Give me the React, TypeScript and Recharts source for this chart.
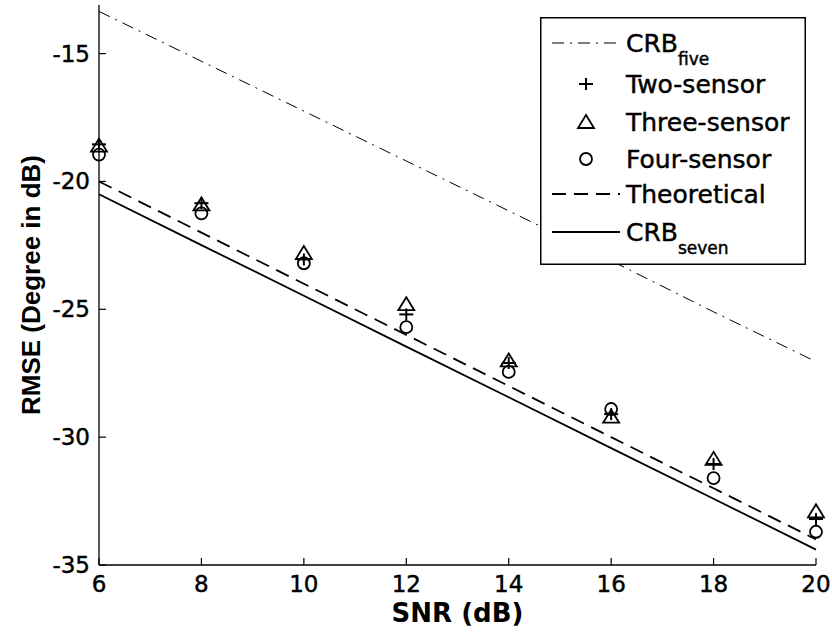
import type { FC } from 'react'
import { ComposedChart, Label, Legend, Line, XAxis, YAxis } from 'recharts'

const SNR = [6, 8, 10, 12, 14, 16, 18, 20]
const CRB_FIVE = [-13.35, -15.3, -17.25, -19.2, -21.15, -23.1, -25.1, -27.05]
const THEORETICAL = [-20.0, -22.0, -24.0, -26.0, -28.0, -30.0, -32.0, -34.0]
const CRB_SEVEN = [-20.5, -22.49, -24.47, -26.46, -28.44, -30.43, -32.41, -34.4]
const TWO_SENSOR = [-18.55, -20.85, -23.05, -25.2, -27.1, -29.1, -31.05, -33.2]
const THREE_SENSOR = [-18.6, -20.9, -22.8, -24.8, -27.0, -29.2, -30.85, -32.9]
const FOUR_SENSOR = [-18.95, -21.25, -23.2, -25.7, -27.45, -28.9, -31.6, -33.7]
const Y_TICKS = [-35, -30, -25, -20, -15]

const rows = SNR.map((snr, i) => ({
  snr,
  crbFive: CRB_FIVE[i],
  theoretical: THEORETICAL[i],
  crbSeven: CRB_SEVEN[i],
  two: TWO_SENSOR[i],
  three: THREE_SENSOR[i],
  four: FOUR_SENSOR[i],
}))

const FONT = '"DejaVu Sans", sans-serif'
const TICK_LEN = 7
const INK = '#000'
// the scanned labels look heavier than a plain regular face
const TEXT_WEIGHT = { stroke: INK, strokeWidth: 0.45 }

type TickProps = { x: number; y: number; payload: { value: number } }
type DotProps = { cx?: number; cy?: number; index?: number }

const BottomTick = ({ x, y, payload }: TickProps) => (
  <g>
    <line x1={x} y1={y} x2={x} y2={y - TICK_LEN} stroke={INK} strokeWidth={1.2} />
    <text x={x} y={y + 27} textAnchor="middle" fontFamily={FONT} fontSize={23} fill={INK} {...TEXT_WEIGHT}>
      {payload.value}
    </text>
  </g>
)
const TopTick = ({ x, y }: TickProps) => (
  <line x1={x} y1={y} x2={x} y2={y + TICK_LEN} stroke={INK} strokeWidth={1.2} />
)
const LeftTick = ({ x, y, payload }: TickProps) => (
  <g>
    <line x1={x} y1={y} x2={x + TICK_LEN} y2={y} stroke={INK} strokeWidth={1.2} />
    <text x={x - 9} y={y + 8} textAnchor="end" fontFamily={FONT} fontSize={23} fill={INK} {...TEXT_WEIGHT}>
      {payload.value}
    </text>
  </g>
)
const RightTick = ({ x, y }: TickProps) => (
  <line x1={x} y1={y} x2={x - TICK_LEN} y2={y} stroke={INK} strokeWidth={1.2} />
)

// marker glyphs, shared by the plot and the legend
const plus = (cx: number, cy: number) => (
  <g stroke={INK} strokeWidth={2}>
    <line x1={cx - 7} y1={cy} x2={cx + 7} y2={cy} />
    <line x1={cx} y1={cy - 6} x2={cx} y2={cy + 6} />
  </g>
)
const triangle = (cx: number, cy: number) => (
  <polygon
    points={`${cx},${cy - 7} ${cx - 8},${cy + 6} ${cx + 8},${cy + 6}`}
    fill="none"
    stroke={INK}
    strokeWidth={1.8}
  />
)
const circle = (cx: number, cy: number) => (
  <circle cx={cx} cy={cy} r={6} fill="none" stroke={INK} strokeWidth={1.8} />
)

const markerDot =
  (draw: (cx: number, cy: number) => JSX.Element) =>
  ({ cx, cy, index }: DotProps) => (
    <g key={`m-${index}`}>{cx != null && cy != null ? draw(cx, cy) : null}</g>
  )

const LEGEND_ROWS = [
  { main: 'CRB', sub: 'five', y: 26, kind: 'dashdot' },
  { main: 'Two-sensor', y: 67, kind: 'plus' },
  { main: 'Three-sensor', y: 105, kind: 'triangle' },
  { main: 'Four-sensor', y: 142, kind: 'circle' },
  { main: 'Theoretical', y: 177, kind: 'dashed' },
  { main: 'CRB', sub: 'seven', y: 215, kind: 'solid' },
]

const LegendBox: FC = () => (
  <svg width={266} height={248}>
    <rect x={0.75} y={0.75} width={264.5} height={246.5} fill="#fff" stroke={INK} strokeWidth={1.5} />
    {LEGEND_ROWS.map((r) => (
      <g key={r.main + (r.sub ?? '')}>
        {r.kind === 'dashdot' && (
          <line x1={12} y1={r.y} x2={80} y2={r.y} stroke={INK} strokeWidth={1} strokeDasharray="12 6 2 6" />
        )}
        {r.kind === 'dashed' && (
          <line x1={12} y1={r.y} x2={80} y2={r.y} stroke={INK} strokeWidth={1.8} strokeDasharray="14 8" />
        )}
        {r.kind === 'solid' && <line x1={12} y1={r.y} x2={80} y2={r.y} stroke={INK} strokeWidth={1.8} />}
        {r.kind === 'plus' && plus(46, r.y)}
        {r.kind === 'triangle' && triangle(46, r.y)}
        {r.kind === 'circle' && circle(46, r.y)}
        <text x={86} y={r.y + 9} fontFamily={FONT} fontSize={25} fill={INK} {...TEXT_WEIGHT}>
          {r.main}
          {r.sub && (
            <tspan dy={13} fontSize={17}>
              {r.sub}
            </tspan>
          )}
        </text>
      </g>
    ))}
  </svg>
)

type ViewBox = { x: number; y: number; width: number; height: number }

const XTitle = ({ viewBox }: { viewBox?: ViewBox }) => {
  if (!viewBox) return null
  return (
    <text
      x={viewBox.x + viewBox.width / 2}
      y={viewBox.y + 57}
      textAnchor="middle"
      fontFamily={FONT}
      fontWeight="bold"
      fontSize={26}
      fill={INK}
    >
      SNR (dB)
    </text>
  )
}

const YTitle = ({ viewBox }: { viewBox?: ViewBox }) => {
  if (!viewBox) return null
  const x = 40
  const y = viewBox.y + viewBox.height / 2
  return (
    <text
      x={x}
      y={y}
      transform={`rotate(-90, ${x}, ${y})`}
      textAnchor="middle"
      fontFamily='"Liberation Sans", Arial, sans-serif'
      fontWeight="bold"
      fontSize={26}
      fill={INK}
    >
      RMSE (Degree in dB)
    </text>
  )
}

export default function App() {
  return (
    <div style={{ position: 'absolute', left: 0, top: 0, background: '#fff' }}>
      <ComposedChart width={832} height={637} data={rows} margin={{ top: 5, right: 16, bottom: 0, left: 0 }}>
        <XAxis
          xAxisId="bottom"
          dataKey="snr"
          type="number"
          domain={[6, 20]}
          ticks={SNR}
          interval={0}
          height={72}
          tickSize={0}
          tickMargin={0}
          axisLine={{ stroke: INK, strokeWidth: 1.3 }}
          tickLine={false}
          tick={BottomTick}
        >
          <Label content={XTitle} />
        </XAxis>
        <XAxis
          xAxisId="top"
          orientation="top"
          dataKey="snr"
          type="number"
          domain={[6, 20]}
          ticks={SNR}
          interval={0}
          height={0}
          tickSize={0}
          tickMargin={0}
          axisLine={{ stroke: INK, strokeWidth: 1.3 }}
          tickLine={false}
          tick={TopTick}
        />
        <YAxis
          yAxisId="left"
          type="number"
          domain={[-35, -13.1]}
          ticks={Y_TICKS}
          interval={0}
          width={99}
          tickSize={0}
          tickMargin={0}
          axisLine={{ stroke: INK, strokeWidth: 1.3 }}
          tickLine={false}
          tick={LeftTick}
        >
          <Label content={YTitle} />
        </YAxis>
        <YAxis
          yAxisId="right"
          orientation="right"
          type="number"
          domain={[-35, -13.1]}
          ticks={Y_TICKS}
          interval={0}
          width={0}
          tickSize={0}
          tickMargin={0}
          axisLine={{ stroke: INK, strokeWidth: 1.3 }}
          tickLine={false}
          tick={RightTick}
        />
        <Line
          xAxisId="bottom"
          yAxisId="left"
          dataKey="crbFive"
          name="CRB five"
          stroke={INK}
          strokeWidth={1}
          strokeDasharray="12 6 2 6"
          dot={false}
          activeDot={false}
          isAnimationActive={false}
        />
        <Line
          xAxisId="bottom"
          yAxisId="left"
          dataKey="theoretical"
          name="Theoretical"
          stroke={INK}
          strokeWidth={1.8}
          strokeDasharray="14 8"
          dot={false}
          activeDot={false}
          isAnimationActive={false}
        />
        <Line
          xAxisId="bottom"
          yAxisId="left"
          dataKey="crbSeven"
          name="CRB seven"
          stroke={INK}
          strokeWidth={1.8}
          dot={false}
          activeDot={false}
          isAnimationActive={false}
        />
        <Line
          xAxisId="bottom"
          yAxisId="left"
          dataKey="two"
          name="Two-sensor"
          stroke="none"
          dot={markerDot(plus)}
          activeDot={false}
          isAnimationActive={false}
        />
        <Line
          xAxisId="bottom"
          yAxisId="left"
          dataKey="three"
          name="Three-sensor"
          stroke="none"
          dot={markerDot(triangle)}
          activeDot={false}
          isAnimationActive={false}
        />
        <Line
          xAxisId="bottom"
          yAxisId="left"
          dataKey="four"
          name="Four-sensor"
          stroke="none"
          dot={markerDot(circle)}
          activeDot={false}
          isAnimationActive={false}
        />
        <Legend
          layout="horizontal"
          verticalAlign="middle"
          align="center"
          wrapperStyle={{ left: 540, top: 17, width: 266, height: 248 }}
          content={() => <LegendBox />}
        />
      </ComposedChart>
    </div>
  )
}
